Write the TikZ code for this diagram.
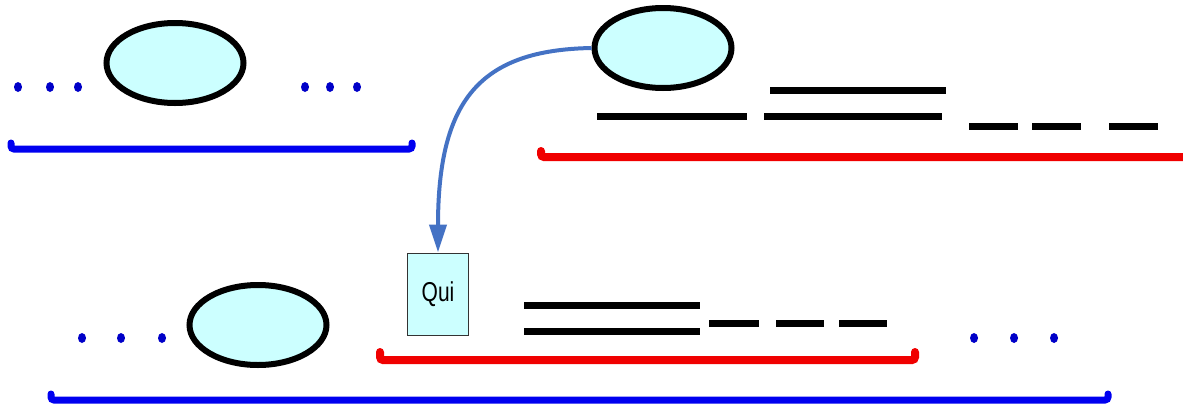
\documentclass[tikz,border=0pt]{standalone}
\usepackage{fontspec}
\setsansfont{Liberation Sans}
\usetikzlibrary{shapes.geometric,arrows.meta}
\definecolor{cellfill}{RGB}{204,255,255}
\definecolor{dotblue}{RGB}{0,0,200}
\definecolor{brblue}{RGB}{0,0,240}
\definecolor{brred}{RGB}{240,0,0}
\definecolor{arrblue}{RGB}{68,114,196}
\tikzset{
  blob/.style={ellipse, draw=black, line width=6pt, fill=cellfill, minimum width=137pt, minimum height=80pt, inner sep=0pt},
  dotn/.style={ellipse, fill=dotblue, minimum width=8pt, minimum height=10pt, inner sep=0pt},
  bar/.style={line width=7pt, black},
  blbr/.style={line width=7pt, brblue, rounded corners=3pt, line cap=round},
  rdbr/.style={line width=8pt, brred, rounded corners=3pt, line cap=round},
  quibox/.style={draw=black!80, line width=1pt, fill=cellfill, minimum width=61pt, minimum height=82pt, inner sep=0pt, font=\sffamily\fontsize{21}{21}\selectfont},
  arr/.style={arrblue, line width=4pt, -{Triangle[length=28pt,width=17pt]}}
}
\begin{document}
\begin{tikzpicture}[x=1pt,y=-1pt]
\useasboundingbox (0,0) rectangle (1183,410);
% top-left group
\node[blob] (e1) at (175,63) {};
\node[dotn] (d1) at (18,87) {};
\node[dotn] (d2) at (50,87) {};
\node[dotn] (d3) at (78,87) {};
\node[dotn] (d4) at (305,87) {};
\node[dotn] (d5) at (330,87) {};
\node[dotn] (d6) at (357,87) {};
\draw[blbr] (11,143) -- (11,149) -- (412,149) -- (412,143);
% top-right group
\node[blob] (e2) at (663,48) {};
\draw[bar] (770,90) -- (946,90);
\draw[bar] (597,116) -- (747,116);
\draw[bar] (764,116) -- (942,116);
\draw[bar] (969,126) -- (1018,126);
\draw[bar] (1032,126) -- (1081,126);
\draw[bar] (1109,126) -- (1158,126);
\draw[rdbr] (541,151) -- (541,157) -- (1190,157);
% bottom group
\node[quibox] (q) at (438,294) {\scalebox{1}[1.3]{Qui}};
\node[blob] (e3) at (258,325) {};
\node[dotn] (d7) at (82,338) {};
\node[dotn] (d8) at (121,338) {};
\node[dotn] (d9) at (162,338) {};
\node[dotn] (d10) at (974,338) {};
\node[dotn] (d11) at (1014,338) {};
\node[dotn] (d12) at (1054,338) {};
\draw[bar] (524,305) -- (700,305);
\draw[bar] (524,331) -- (700,331);
\draw[bar] (709,323) -- (759,323);
\draw[bar] (776,323) -- (824,323);
\draw[bar] (839,323) -- (887,323);
\draw[rdbr] (380,352) -- (380,360) -- (915,360) -- (915,352);
\draw[blbr] (51,394) -- (51,400) -- (1108,400) -- (1108,394);
% arrow
\draw[arr] (e2.west) .. controls (480,50) and (438,100) .. (q.north);
\end{tikzpicture}
\end{document}
